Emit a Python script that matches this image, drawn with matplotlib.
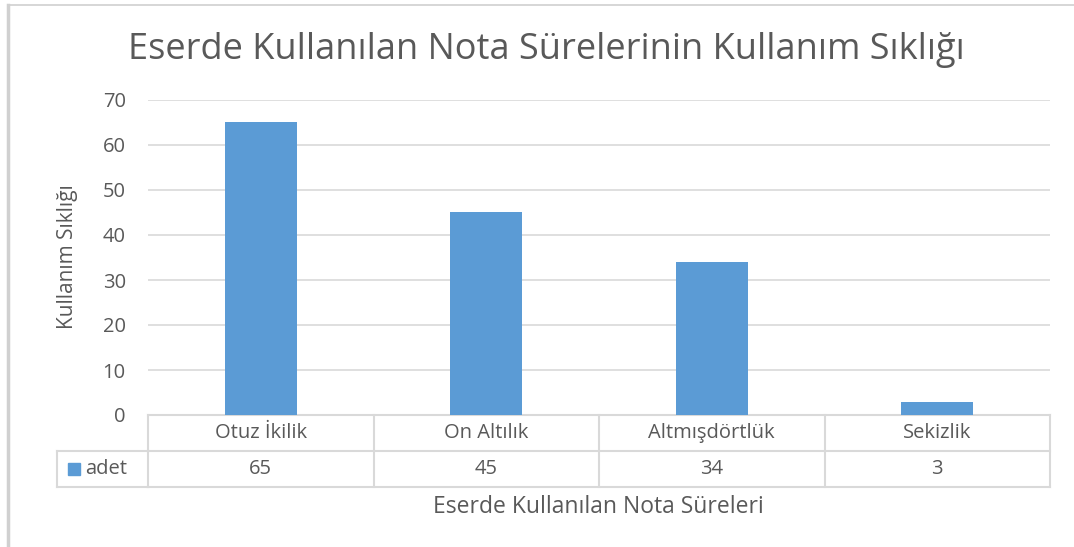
import matplotlib
matplotlib.use("Agg")
import matplotlib.pyplot as plt
from matplotlib.patches import Rectangle
from matplotlib.lines import Line2D
import numpy as np

plt.rcParams['font.family'] = ['Open Sans', 'DejaVu Sans']

# data
categories = ["Otuz İkilik", "On Altılık", "Altmışdörtlük", "Sekizlik"]
values = [65, 45, 34, 3]
series_name = "adet"
title = "Eserde Kullanılan Nota Sürelerinin Kullanım Sıklığı"
xlabel = "Eserde Kullanılan Nota Süreleri"
ylabel = "Kullanım Sıklığı"

bar_color = "#5b9bd5"
text_color = "#595959"
grid_color = "#d9d9d9"
W, H = 1074, 547
fs = 14.5

fig = plt.figure(figsize=(W / 100, H / 100), dpi=100)
ax = fig.add_axes([148 / W, (H - 415) / H, 902 / W, 315 / H])

x = np.arange(len(categories))
ax.bar(x, values, width=0.32, color=bar_color, zorder=3)
ax.set_xlim(-0.5, len(categories) - 0.5)
ax.set_ylim(0, 70)
ax.set_yticks(range(0, 71, 10))
ax.yaxis.grid(True, color=grid_color, linewidth=1.2, zorder=0)
ax.set_xticks([])
for s in ax.spines.values():
    s.set_visible(False)
ax.tick_params(axis='y', length=0, pad=16, labelsize=fs, labelcolor=text_color)

# data table under the axis
row_h = 36 / 315
trans = ax.get_xaxis_transform()
bounds = np.arange(len(categories) + 1) - 0.5
tk = dict(color=grid_color, linewidth=1.5, transform=trans, clip_on=False)
ax.add_line(Line2D([bounds[0], bounds[-1]], [0, 0], **tk))
ax.add_line(Line2D([bounds[0], bounds[-1]], [-row_h, -row_h], **tk))
ax.add_line(Line2D([bounds[0], bounds[-1]], [-2 * row_h, -2 * row_h], **tk))
for b in bounds:
    ax.add_line(Line2D([b, b], [0, -2 * row_h], **tk))
# row header cell
hx0 = -0.5 - 91 / 225.5
ax.add_line(Line2D([hx0, bounds[0]], [-row_h, -row_h], **tk))
ax.add_line(Line2D([hx0, bounds[0]], [-2 * row_h, -2 * row_h], **tk))
ax.add_line(Line2D([hx0, hx0], [-row_h, -2 * row_h], **tk))

for i, (c, v) in enumerate(zip(categories, values)):
    ax.text(i, -row_h / 2, c, transform=trans, ha='center', va='center',
            fontsize=fs, color=text_color)
    ax.text(i, -1.5 * row_h, str(v), transform=trans, ha='center', va='center',
            fontsize=fs, color=text_color)
ax.add_patch(Rectangle((hx0 + 11 / 225.5, -1.5 * row_h - 0.02), 12 / 225.5, 0.04,
                       transform=trans, color=bar_color, clip_on=False))
ax.text(hx0 + 28 / 225.5, -1.5 * row_h, series_name, transform=trans,
        ha='left', va='center', fontsize=fs, color=text_color)

fig.text(598 / W, 1 - 507 / H, xlabel, ha='center', va='center',
         fontsize=16.5, color=text_color)
fig.text(68 / W, 1 - 257 / H, ylabel, ha='center', va='center', rotation=90,
         fontsize=15, color=text_color)
fig.text(546 / W, 1 - 50 / H, title, ha='center', va='center',
         fontsize=26, color=text_color)

# chart frame
fig.add_artist(Line2D([8 / W, 8 / W], [0, 1 - 5 / H], color="#d0d0d0", linewidth=2.5))
fig.add_artist(Line2D([8 / W, 1], [1 - 5 / H, 1 - 5 / H], color="#d0d0d0", linewidth=1.2))

fig.savefig("out.png", dpi=100, facecolor="white")
